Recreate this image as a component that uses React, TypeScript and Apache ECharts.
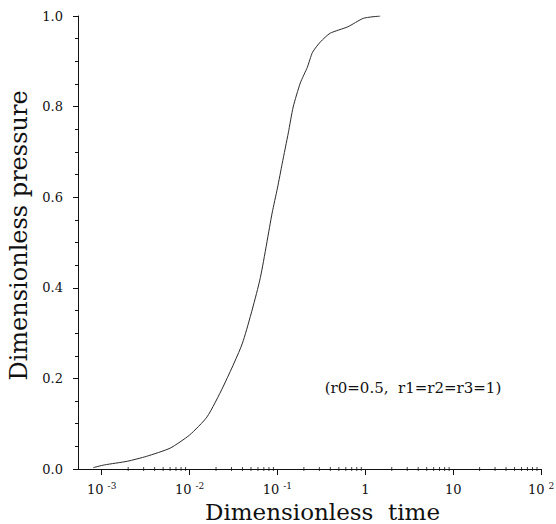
import React, { useEffect, useRef } from "react";
import * as echarts from "echarts";

// Dimensionless time (log scale) and dimensionless pressure
const timeValues = [
  0.0008, 0.00107, 0.00195, 0.00324, 0.006, 0.01, 0.0158, 0.024, 0.04, 0.063,
  0.087, 0.1, 0.1135, 0.133, 0.151, 0.182, 0.219, 0.251, 0.309, 0.398, 0.63,
  0.955, 1.48,
];
const pressureValues = [
  0.003, 0.009, 0.017, 0.028, 0.046, 0.075, 0.115, 0.181, 0.278, 0.417, 0.565,
  0.62, 0.675, 0.742, 0.799, 0.852, 0.887, 0.92, 0.943, 0.962, 0.976, 0.995,
  1.0,
];

// axis settings
const xMin = 0.000537;
const xMax = 100;
const yTicks = ["0.0", "0.2", "0.4", "0.6", "0.8", "1.0"];
const decades = [0.001, 0.01, 0.1, 1, 10];
const minorMultipliers = [2, 3, 4, 5, 6, 7, 8, 9];

const annotation = "(r0=0.5,  r1=r2=r3=1)";
const xTitle = "Dimensionless  time";
const yTitle = "Dimensionless pressure";

const FONT = '"DejaVu Serif", "Liberation Serif", serif';
const INK = "#111111";

export default function App() {
  const ref = useRef<HTMLDivElement>(null);

  useEffect(() => {
    if (!ref.current) return;
    const chart = echarts.init(ref.current, undefined, { renderer: "svg" });

    const curve = timeValues.map((t, i) => [t, pressureValues[i]]);
    const minorTicks: number[][] = [];
    decades.forEach((d) =>
      minorMultipliers.forEach((m) => minorTicks.push([d * m, 0]))
    );

    chart.setOption({
      animation: false,
      backgroundColor: "#ffffff",
      grid: {
        left: 78,
        right: 15,
        top: 16,
        bottom: 55,
        containLabel: false,
        outerBoundsMode: "none",
      },
      xAxis: {
        type: "log",
        logBase: 10,
        min: xMin,
        max: xMax,
        name: xTitle,
        nameLocation: "middle",
        nameGap: 23,
        nameTextStyle: {
          fontFamily: FONT,
          fontSize: 23,
          color: INK,
          padding: [0, 0, 0, 26],
        },
        axisLine: { show: true, lineStyle: { color: INK, width: 1 } },
        axisTick: { show: true, length: 6, lineStyle: { color: INK } },
        minorTick: { show: false },
        splitLine: { show: false },
        axisLabel: {
          margin: 12,
          color: INK,
          showMinLabel: false,
          formatter: (v: number) => {
            const lg = Math.log10(v);
            const e = Math.round(lg);
            if (Math.abs(lg - e) > 1e-6) return "";
            if (e === 0) return "{b|1}";
            if (e === 1) return "{b|10}";
            return "{b|10}{s|" + e + "}";
          },
          rich: {
            b: { fontFamily: FONT, fontSize: 13, color: INK, lineHeight: 16 },
            s: {
              fontFamily: FONT,
              fontSize: 9,
              color: INK,
              lineHeight: 10,
              verticalAlign: "top",
              padding: [0, 0, 0, 4],
            },
          },
        },
      },
      yAxis: {
        type: "value",
        min: 0,
        max: 1,
        interval: 0.2,
        name: yTitle,
        nameLocation: "middle",
        nameGap: 46,
        nameTextStyle: {
          fontFamily: FONT,
          fontSize: 24,
          color: INK,
          padding: [0, 0, 0, 14],
        },
        axisLine: { show: true, lineStyle: { color: INK, width: 1 } },
        axisTick: { show: true, length: 5, lineStyle: { color: INK } },
        minorTick: { show: true, splitNumber: 4, length: 3, lineStyle: { color: INK } },
        splitLine: { show: false },
        axisLabel: {
          margin: 15,
          color: INK,
          fontFamily: FONT,
          fontSize: 13,
          formatter: (v: number) => {
            const idx = Math.round(v / 0.2);
            return yTicks[idx] ?? "";
          },
        },
      },
      series: [
        {
          type: "line",
          data: curve,
          showSymbol: false,
          smooth: 0.2,
          lineStyle: { color: "#2a2a2a", width: 1 },
          z: 3,
        },
        {
          type: "scatter",
          data: minorTicks,
          symbol: "rect",
          symbolSize: [1, 4],
          itemStyle: { color: INK },
          silent: true,
          clip: false,
          z: 4,
        },
      ],
      graphic: [
        {
          type: "text",
          x: 413,
          y: 388,
          style: {
            text: annotation,
            fontFamily: FONT,
            fontSize: 15,
            fill: INK,
            align: "center",
            verticalAlign: "middle",
          },
        },
      ],
    });

    return () => chart.dispose();
  }, []);

  return (
    <div
      ref={ref}
      style={{ position: "absolute", left: 0, top: 0, width: 556, height: 524 }}
    />
  );
}
